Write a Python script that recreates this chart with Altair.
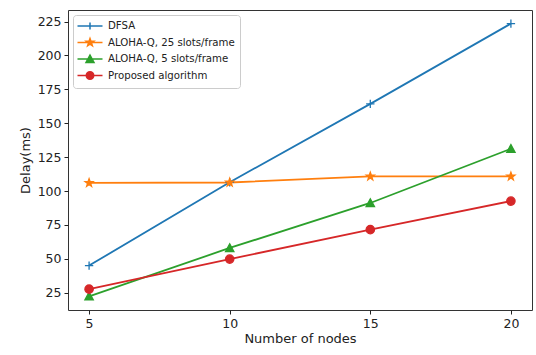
import math
import altair as alt
import pandas as pd

nodes = [5, 10, 15, 20]
series_names = ["DFSA", "ALOHA-Q, 25 slots/frame", "ALOHA-Q, 5 slots/frame", "Proposed algorithm"]
dfsa = [45.0, 106.5, 164.3, 223.5]
aloha25 = [106.0, 106.3, 110.8, 110.8]
aloha5 = [22.3, 58.0, 91.2, 131.2]
proposed = [27.6, 49.8, 71.5, 92.6]
colors = ["#1f77b4", "#ff7f0e", "#2ca02c", "#d62728"]
y_ticks = [25, 50, 75, 100, 125, 150, 175, 200, 225]

rows = []
for name, vals in zip(series_names, [dfsa, aloha25, aloha5, proposed]):
    for n, v in zip(nodes, vals):
        rows.append({"nodes": n, "delay": v, "series": name})
df = pd.DataFrame(rows)

allv = dfsa + aloha25 + aloha5 + proposed
lo, hi = min(allv), max(allv)
m = 0.05 * (hi - lo)
ydom = [lo - m, hi + m]
xm = 0.05 * (max(nodes) - min(nodes))
xdom = [min(nodes) - xm, max(nodes) + xm]


def star(r_out, r_in):
    pts = []
    for i in range(10):
        a = -math.pi / 2 + i * math.pi / 5
        r = r_out if i % 2 == 0 else r_in
        pts.append((r * math.cos(a), r * math.sin(a)))
    return "M" + "L".join(f"{x:.3f},{y:.3f}" for x, y in pts) + "Z"


def circle(r):
    return f"M{-r},0A{r},{r} 0 1,0 {r},0A{r},{r} 0 1,0 {-r},0Z"


def tri(r):
    return f"M0,{-r}L{r},{0.85*r}L{-r},{0.85*r}Z"


# marker shapes for the plotted points (unit box -1..1)
pt_shapes = ["M-1,0H1M0,-1V1", star(1.0, 0.4), tri(1.0), circle(1.0)]
# legend glyphs: line segment through the marker
L = "M-2.5,0H2.5"
lg_shapes = [L + "M0,-0.7V0.7", L + star(0.8, 0.32), L + tri(0.8), L + circle(0.75)]

base = alt.Chart(df)
xenc = alt.X("nodes:Q", scale=alt.Scale(domain=xdom, nice=False, zero=False),
             axis=alt.Axis(values=nodes, title="Number of nodes", format="d"))
yenc = alt.Y("delay:Q", scale=alt.Scale(domain=ydom, nice=False, zero=False),
             axis=alt.Axis(values=y_ticks, title="Delay(ms)"))
cscale = alt.Scale(domain=series_names, range=colors)

lines = base.mark_line(strokeWidth=1.8).encode(
    x=xenc, y=yenc,
    color=alt.Color("series:N", scale=cscale, legend=None),
)
points = base.mark_point(filled=True, size=70, strokeWidth=1.3, opacity=1).encode(
    x=xenc, y=yenc,
    color=alt.Color("series:N", scale=cscale, legend=None),
    stroke=alt.Stroke("series:N", scale=cscale, legend=None),
    shape=alt.Shape("series:N", scale=alt.Scale(domain=series_names, range=pt_shapes), legend=None),
)
leg = alt.Chart(df).transform_filter("false").mark_point(filled=True, size=100, strokeWidth=1.5, opacity=1).encode(
    color=alt.Color("series:N", scale=cscale, title=None,
                    legend=alt.Legend(orient="top-left", title=None)),
    stroke=alt.Stroke("series:N", scale=cscale, title=None,
                      legend=alt.Legend(orient="top-left", title=None)),
    shape=alt.Shape("series:N", scale=alt.Scale(domain=series_names, range=lg_shapes), title=None,
                    legend=alt.Legend(orient="top-left", title=None)),
)

chart = alt.layer(lines, points, leg).resolve_scale(
    color="independent", shape="independent", stroke="independent"
).properties(
    width=464, height=300,
    autosize=alt.AutoSizeParams(type="none"),
    padding={"left": 68, "top": 10, "right": 4, "bottom": 45},
    background="white",
).configure_view(
    stroke="#333333", strokeWidth=1
).configure_axis(
    grid=False, domain=False, tickColor="#222222", tickSize=4, tickWidth=1,
    labelFont="DejaVu Sans", labelFontSize=12.5, labelColor="#222222", labelPadding=3,
    titleFont="DejaVu Sans", titleFontSize=13, titleFontWeight="normal", titleColor="#222222",
).configure_axisX(titlePadding=3).configure_axisY(titlePadding=5).configure_legend(
    labelFont="DejaVu Sans", labelFontSize=10.2, labelColor="#222222",
    strokeColor="#cccccc", fillColor="white", cornerRadius=3, padding=5,
    offset=5, rowPadding=2.5, labelOffset=12, symbolOffset=6, symbolSize=100,
    symbolStrokeWidth=1.5,
)

chart.save("out.html", embed_options={"renderer": "svg", "actions": False})
